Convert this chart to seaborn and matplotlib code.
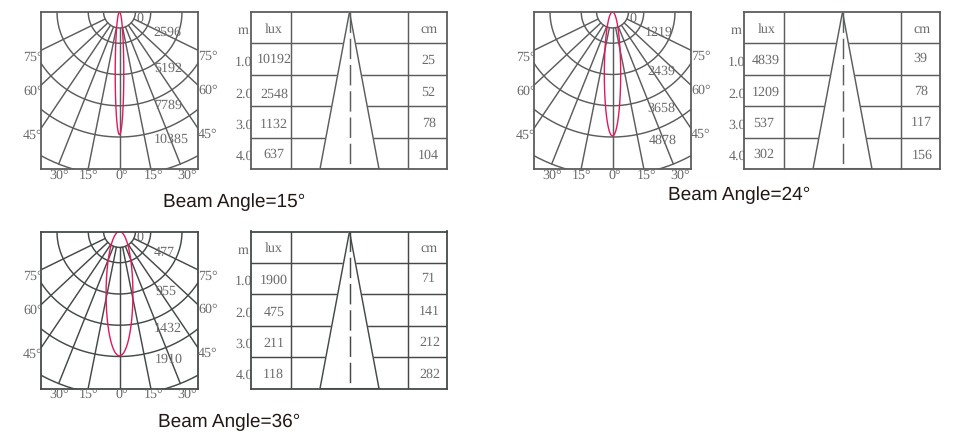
import numpy as np
import matplotlib
matplotlib.use("Agg")
import matplotlib.pyplot as plt
import seaborn as sns

# ---- chart values -------------------------------------------------------
beam_angles = [15, 24, 36]
peak_intensity = [10192, 4839, 1900]
ring_values_15 = [2596, 5192, 7789, 10385]
ring_values_24 = [1219, 2439, 3658, 4878]
ring_values_36 = [477, 955, 1432, 1910]
beam_width_ratio = [0.035, 0.066, 0.108]
distances_m = ["1.0", "2.0", "3.0", "4.0"]
lux_15 = [10192, 2548, 1132, 637]
lux_24 = [4839, 1209, 537, 302]
lux_36 = [1900, 475, 211, 118]
cm_15 = [25, 52, 78, 104]
cm_24 = [39, 78, 117, 156]
cm_36 = [71, 141, 212, 282]
angle_side_labels = ["75°", "60°", "45°"]
angle_bottom_labels = ["30°", "15°", "0°", "15°", "30°"]
# schematic spoke directions of the printed iso-candela grid, degrees from axis
spoke_angles = [0, 11.3, 21.8, 34, 47, 64]
# ---- layout (pixels) -----------------------------------------------------
W, H = 960, 432
BOX = 157
RING_PX = 125.0
polar_origin = [(41, 12), (534, 12), (41, 231.5)]
table_origin = [(251, 12), (744, 12), (251, 231.5)]
title_center = [(234.5, 202), (739.5, 195.5), (229, 422)]
ring_offsets = [
    [(126, 20), (127, 56), (127, 93), (130, 127)],
    [(125, 20), (127.7, 59), (127.7, 96.7), (128.7, 128)],
    [(123, 20.7), (124.7, 59.7), (127, 96.7), (128, 128)],
]
lux_offsets = [
    [(23, 47), (23, 82), (23, 112), (23, 142)],
    [(22, 48), (22, 80.7), (20, 111.7), (20, 142.7)],
    [(23, 48.7), (23, 81), (22.5, 112), (22.5, 143)],
]
cm_offsets = [
    [(177, 48), (177, 80), (178, 111), (177, 143)],
    [(176.7, 46), (177, 79.7), (177, 110.7), (178, 143)],
    [(177, 46.7), (178, 79.7), (179, 111), (179, 143)],
]
line_colors = ["#5c5e5e", "#5c5e5e", "#454a49"]
BEAM = "#e2175e"
TEXT = "#6a6a6a"
SERIF = ["Liberation Serif"]
LW = 1.05
TABLE_W = 196

sns.set_theme(style="white")
plt.rcParams["text.hinting"] = "no_hinting"
plt.rcParams["text.hinting_factor"] = 1
fig = plt.figure(figsize=(W / 100, H / 100), dpi=100, facecolor="white")


def add_axes(x, y, w, h, zorder):
    ax = fig.add_axes([x / W, 1 - (y + h) / H, w / W, h / H], zorder=zorder, facecolor="white")
    ax.set_xticks([])
    ax.set_yticks([])
    return ax


def line(ax, xs, ys, color, lw=LW, **kw):
    sns.lineplot(x=np.asarray(xs), y=np.asarray(ys), ax=ax, color=color, lw=lw,
                 sort=False, estimator=None, errorbar=None, legend=False, **kw)


def label(x, y, s, zorder=10):
    fig.text(x / W, 1 - y / H, s, ha="center", va="center", family=SERIF, fontsize=10.2,
             color=TEXT, zorder=zorder)


def finish(ax, xlim, ylim, color):
    ax.set_xlim(*xlim)
    ax.set_ylim(*ylim)
    ax.set_xlabel("")
    ax.set_ylabel("")
    ax.set_xticks([])
    ax.set_yticks([])
    for sp in ax.spines.values():
        sp.set_visible(True)
        sp.set_color(color)
        sp.set_linewidth(1.3)


def polar_panel(i, rings):
    ox, oy = polar_origin[i]
    c = line_colors[i]
    ax = add_axes(ox, oy, BOX, BOX, 3)
    top = rings[-1]
    unit = top / RING_PX  # intensity per pixel
    t = np.radians(np.linspace(-90, 90, 241))
    radii = [rings[0] * 0.51] + list(rings) + [top * 1.31]
    for r in radii:
        line(ax, r * np.sin(t), r * np.cos(t), c)
    for a in spoke_angles:
        for s in ([1] if a == 0 else [-1, 1]):
            ang = np.radians(s * a)
            rr = np.array([radii[0], radii[-1]])
            line(ax, rr * np.sin(ang), rr * np.cos(ang), c)
    # light distribution curve
    peak = peak_intensity[i]
    p = np.linspace(0, 2 * np.pi, 241)
    line(ax, peak * beam_width_ratio[i] * np.sin(p), peak * (1 - np.cos(p)) / 2, BEAM, lw=1.0)
    half = BOX / 2 * unit
    finish(ax, (-half, half), (BOX * unit, 0), c)

    for val, (dx, dy) in zip(rings, ring_offsets[i]):
        label(ox + dx, oy + dy, str(val))
    label(ox + 99, oy + 6, "0")
    for s, yl, yr in zip(angle_side_labels, [45, 79, 123], [44.5, 78, 122]):
        label(ox - 8, oy + yl, s)
        label(ox + 167, oy + yr, s)
    for s, dx in zip(angle_bottom_labels, [18, 48, 81, 113, 146]):
        label(ox + dx, oy + 163, s)


def table_panel(i, lux, cm):
    ox, oy = table_origin[i]
    c = line_colors[i]
    ax = add_axes(ox, oy, TABLE_W, BOX, 3)
    # x in pixels across the table; y in metres below the header row
    for m in range(0, 4):
        line(ax, [0, TABLE_W], [m, m], c)
    for x in (39.5, 157):
        line(ax, [x, x], [-1, 4], c)
    cx, half = 98.5, 29.5
    ax.fill([cx, cx - half, cx + half], [-1, 4, 4], color="white", zorder=4)
    line(ax, [cx, cx - half], [-1, 4], c, zorder=5)
    line(ax, [cx, cx + half], [-1, 4], c, zorder=5)
    line(ax, [cx, cx], [-1, 4], c, zorder=5, linestyle=(0, (14, 4.0)))
    line(ax, [cx - half, cx + half], [4, 4], c, lw=2.2, zorder=5)
    finish(ax, (0, TABLE_W), (4, -1), c)

    label(ox - 8, oy + 19, "m")
    label(ox + 23, oy + 17, "lux")
    label(ox + 178, oy + 17, "cm")
    for d, y in zip(distances_m, [50, 82, 113, 144]):
        label(ox - 7, oy + y, d, zorder=1)  # tucked under the table edge
    for val, (dx, dy) in zip(lux, lux_offsets[i]):
        label(ox + dx, oy + dy, str(val))
    for val, (dx, dy) in zip(cm, cm_offsets[i]):
        label(ox + dx, oy + dy, str(val))


for i, (rings, lux, cm) in enumerate(zip(
        [ring_values_15, ring_values_24, ring_values_36],
        [lux_15, lux_24, lux_36],
        [cm_15, cm_24, cm_36])):
    polar_panel(i, rings)
    table_panel(i, lux, cm)
    tx, ty = title_center[i]
    fig.text(tx / W, 1 - ty / H, f"Beam Angle={beam_angles[i]}°", ha="center", va="center",
             family=["Liberation Sans"], fontsize=13.9, color="#231815", zorder=10)

fig.savefig("out.png", dpi=100, facecolor="white")
